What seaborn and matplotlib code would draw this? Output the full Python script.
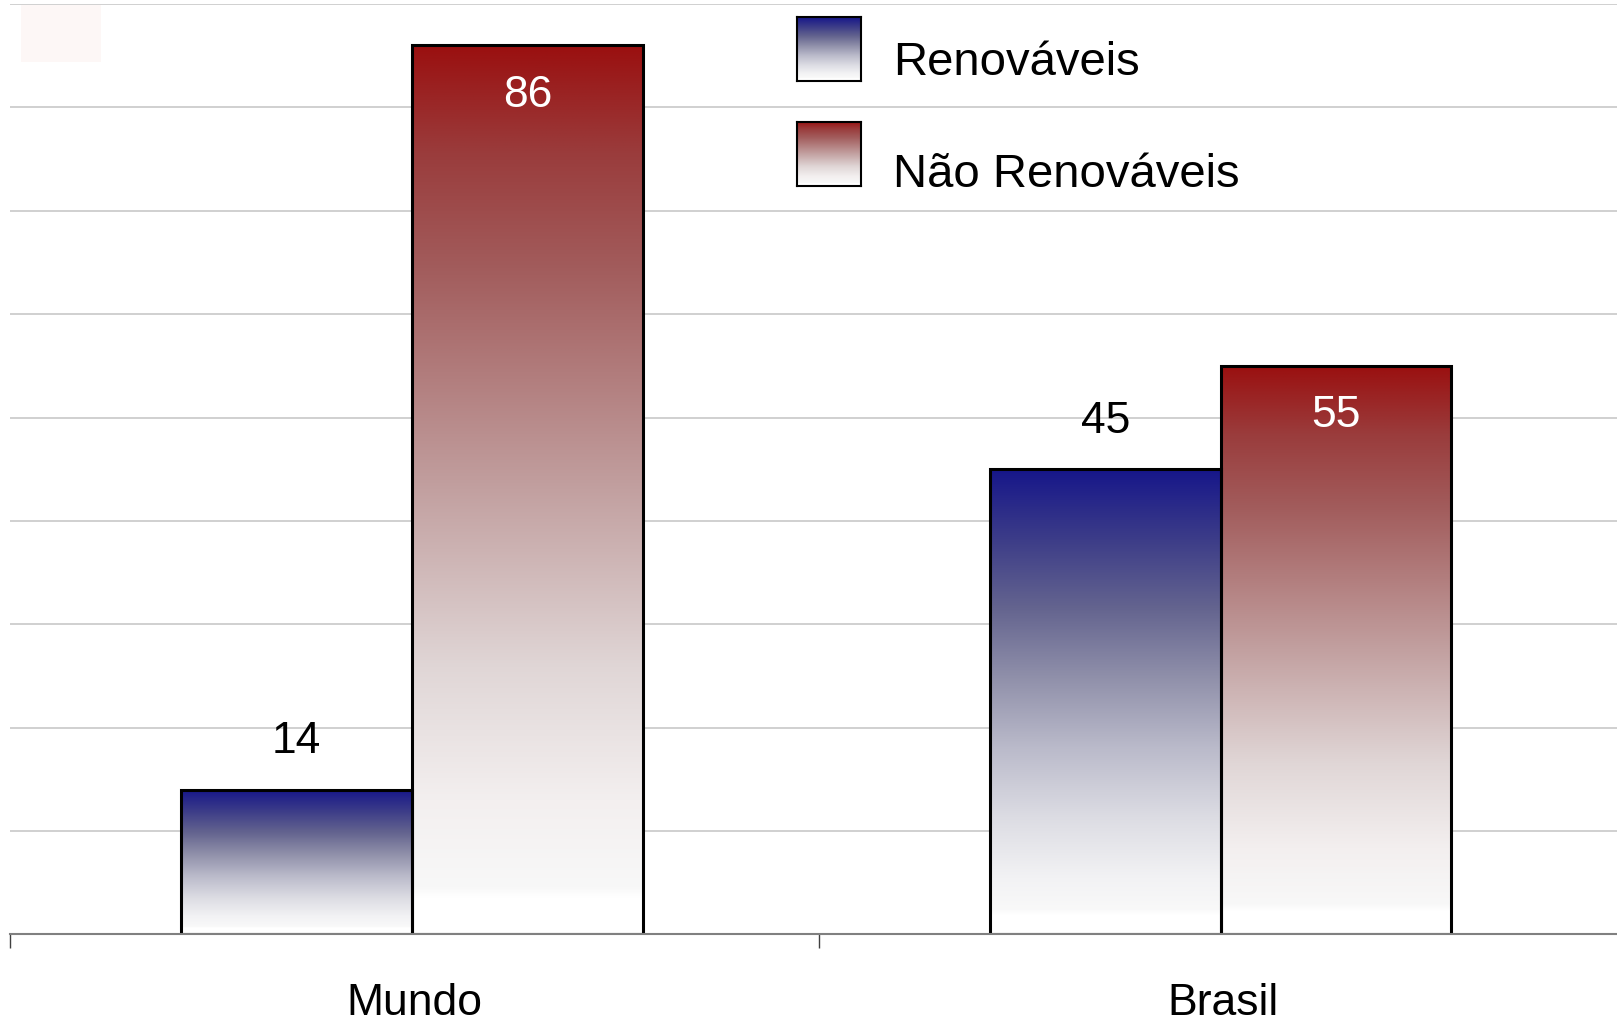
import numpy as np
import pandas as pd
import matplotlib
matplotlib.use("Agg")
import matplotlib.pyplot as plt
import matplotlib.colors as mcolors
from matplotlib.patches import Rectangle
import seaborn as sns

# Data
regioes = ['Mundo', 'Brasil']
fontes = ['Renováveis', 'Não Renováveis']
renovaveis = [14, 45]
nao_renovaveis = [86, 55]
cores = ['#16168a', '#9a1010']

# gradient stops (top -> bottom)
paradas = {
    '#16168a': [(0.0, '#16168a'), (0.15, '#3c3c88'), (0.3, '#64648f'), (0.45, '#9090aa'),
                (0.6, '#babaca'), (0.75, '#dcdce3'), (0.88, '#f2f2f4'), (0.95, '#f9f9f9'),
                (0.96, '#ffffff'), (1.0, '#ffffff')],
    '#9a1010': [(0.0, '#9a1010'), (0.12, '#9a3c3c'), (0.25, '#a25c5c'), (0.5, '#c2a0a0'),
                (0.7, '#e0d6d6'), (0.85, '#f3efef'), (0.95, '#f8f8f8'),
                (0.96, '#ffffff'), (1.0, '#ffffff')],
}

df = pd.DataFrame({
    'Regiao': regioes * 2,
    'Fonte': [fontes[0]] * 2 + [fontes[1]] * 2,
    'Percentual': renovaveis + nao_renovaveis,
})

sns.set_style('white')
plt.rcParams['font.family'] = ['Liberation Sans', 'DejaVu Sans']
plt.rcParams['text.color'] = 'black'
plt.rcParams['xtick.color'] = 'black'

W, H = 1617, 1021
fig = plt.figure(figsize=(W / 100, H / 100), dpi=100)
ax = fig.add_axes([10.3 / W, (H - 934.3) / H, 1.0, (934.3 - 4.1) / H])


def gradiente(cor, n=256):
    cmap = mcolors.LinearSegmentedColormap.from_list('g' + cor, paradas[cor])
    arr = cmap(np.linspace(0, 1, n))[:, :3]
    return arr[:, None, :]


sns.barplot(data=df, x='Regiao', y='Percentual', hue='Fonte', hue_order=fontes,
            palette=cores, width=0.571, edgecolor='black', linewidth=2.2,
            legend=False, ax=ax)

# gradient fill for each bar
for cont, cor in zip(ax.containers, cores):
    for p in cont.patches:
        x0, y0 = p.get_x() - 0.003, p.get_y()
        p.set_x(x0)
        w, h = p.get_width(), p.get_height()
        ax.imshow(gradiente(cor), extent=(x0, x0 + w, y0, y0 + h), origin='upper',
                  aspect='auto', interpolation='bilinear', zorder=p.get_zorder() - 0.05)
        p.set_facecolor('none')

# value labels
for p, v in zip(ax.containers[0].patches, renovaveis):
    ax.annotate(str(v), (p.get_x() + p.get_width() / 2, v), xytext=(0, 26),
                textcoords='offset points', ha='center', va='baseline',
                fontsize=32, color='black')
for p, v in zip(ax.containers[1].patches, nao_renovaveis):
    ax.annotate(str(v), (p.get_x() + p.get_width() / 2, v), xytext=(0, -44),
                textcoords='offset points', ha='center', va='baseline',
                fontsize=32, color='white')

ax.set_xlim(-0.5, 1.5)
ax.set_ylim(0, 90)
ax.set_yticks(np.arange(0, 91, 10))
ax.set_yticklabels([])
ax.tick_params(axis='y', length=0, left=False)
ax.yaxis.grid(True, color='#c8c8c8', linewidth=1.2)
ax.set_axisbelow(True)

ax.set_xticks([-0.5, 0.5, 1.5])
ax.set_xticklabels([])
ax.set_xticks([0, 1], minor=True)
ax.set_xticklabels(regioes, minor=True, fontsize=32, color='black')
ax.tick_params(axis='x', which='major', bottom=True, direction='out', length=10.4,
               width=1.0, color='#404040')
ax.tick_params(axis='x', which='minor', bottom=True, length=0, pad=35)
ax.set_xlabel('')
ax.set_ylabel('')

for s in ['top', 'left', 'right']:
    ax.spines[s].set_visible(False)
ax.spines['bottom'].set_color('#808080')
ax.spines['bottom'].set_linewidth(1.5)

# legend drawn by hand with gradient swatches
sw_y = [17.5, 121.7]
txt_y = [75, 187]
for cor, nome, yy, ty in zip(cores, fontes, sw_y, txt_y):
    lax = fig.add_axes([797 / W, (H - yy - 64) / H, 64 / W, 64 / H])
    lax.imshow(gradiente(cor), aspect='auto', extent=(0, 1, 0, 1), origin='upper',
               interpolation='bilinear')
    lax.set_xticks([])
    lax.set_yticks([])
    for s in lax.spines.values():
        s.set_color('black')
        s.set_linewidth(1.5)
    fig.text(893 / W, 1 - ty / H, nome, fontsize=34, va='baseline', ha='left',
             color='black')

# faint box at top-left corner
fig.patches.append(Rectangle((21 / W, 1 - 62 / H), 80 / W, 57 / H,
                             transform=fig.transFigure, facecolor='#fdf7f6',
                             edgecolor='none', zorder=0))

fig.savefig('out.png', dpi=100)
